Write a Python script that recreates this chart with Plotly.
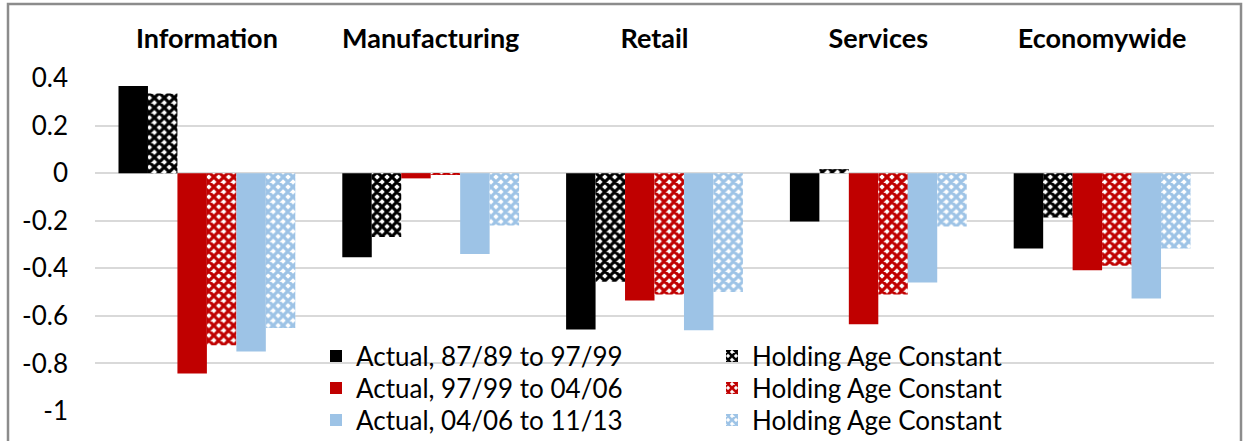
import plotly.graph_objects as go

categories = ["Information", "Manufacturing", "Retail", "Services", "Economywide"]

actual_87_97 = [0.366, -0.354, -0.657, -0.203, -0.317]
holding_87_97 = [0.335, -0.268, -0.457, 0.017, -0.187]
actual_97_04 = [-0.842, -0.022, -0.535, -0.635, -0.408]
holding_97_04 = [-0.724, -0.005, -0.51, -0.51, -0.389]
actual_04_11 = [-0.75, -0.34, -0.66, -0.46, -0.527]
holding_04_11 = [-0.651, -0.22, -0.50, -0.224, -0.317]

series_names = ["Actual, 87/89 to 97/99", "Holding Age Constant",
                "Actual, 97/99 to 04/06", "Holding Age Constant",
                "Actual, 04/06 to 11/13", "Holding Age Constant"]
series_values = [actual_87_97, holding_87_97, actual_97_04, holding_97_04,
                 actual_04_11, holding_04_11]
series_colors = ["#000000", "#000000", "#c00000", "#c00000", "#9dc3e6", "#9dc3e6"]
series_patterned = [False, True, False, True, False, True]
series_legend = ["legend", "legend", "legend2", "legend2", "legend3", "legend3"]

ytick_vals = [0.4, 0.2, 0, -0.2, -0.4, -0.6, -0.8, -1]
ytick_text = ["0.4", "0.2", "0", "-0.2", "-0.4", "-0.6", "-0.8", "-1"]

FONT = "Lato, 'Open Sans', sans-serif"
W, H = 1244, 441
ML, MR, MT, MB = 95, 30, 78, 30
PW, PH = W - ML - MR, H - MT - MB


def px_x(x):
    return (x - ML) / PW


def px_y(y):
    return (H - MB - y) / PH


fig = go.Figure()
for name, vals, col, pat, lg in zip(series_names, series_values, series_colors,
                                    series_patterned, series_legend):
    if pat:
        marker = dict(color="white", line=dict(width=0),
                      pattern=dict(shape="x", fgcolor=col, bgcolor="white",
                                   size=7, solidity=0.7, fillmode="replace"))
    else:
        marker = dict(color=col, line=dict(width=0))
    fig.add_trace(go.Bar(x=categories, y=vals, name=name, marker=marker, legend=lg))


def legend_row(center_y):
    return dict(orientation="h", x=px_x(316), xanchor="left",
                y=px_y(center_y), yanchor="middle",
                bgcolor="rgba(0,0,0,0)", entrywidth=351, entrywidthmode="pixels",
                font=dict(family=FONT, size=26, color="#000000"),
                traceorder="normal", itemclick=False, itemdoubleclick=False)


fig.update_layout(
    width=W, height=H,
    paper_bgcolor="white", plot_bgcolor="white",
    margin=dict(l=ML, r=MR, t=MT, b=MB, autoexpand=False),
    barmode="group", bargap=0.21, bargroupgap=0,
    font=dict(family=FONT, size=24, color="#000000"),
    xaxis=dict(side="top", showgrid=False, showline=False, ticks="",
               ticklabelstandoff=24, automargin=False,
               tickfont=dict(family=FONT, size=27, color="#000000", weight="bold")),
    yaxis=dict(range=[-1, 0.4], tickvals=ytick_vals, ticktext=ytick_text,
               showgrid=True, gridcolor="#d9d9d9", gridwidth=1.5,
               zeroline=False, showline=False, ticks="", ticklabelstandoff=26,
               automargin=False,
               tickfont=dict(family=FONT, size=26, color="#000000")),
    legend=legend_row(356),
    legend2=legend_row(388),
    legend3=legend_row(420),
    showlegend=True,
)

# white legend box hiding gridlines behind the legend
fig.add_shape(type="rect", xref="paper", yref="paper",
              x0=px_x(267), x1=px_x(1005), y0=px_y(441), y1=px_y(336),
              line=dict(width=0), fillcolor="white", layer="between")

# outer chart frame
fig.add_shape(type="rect", xref="paper", yref="paper",
              x0=px_x(8), x1=px_x(1241), y0=px_y(470), y1=px_y(4),
              line=dict(color="#8c8c8c", width=2.5), fillcolor="rgba(0,0,0,0)",
              layer="above")

fig.write_html("out.html", config={"displayModeBar": False},
               post_script="document.body.style.margin='0';document.body.style.overflow='hidden';")
